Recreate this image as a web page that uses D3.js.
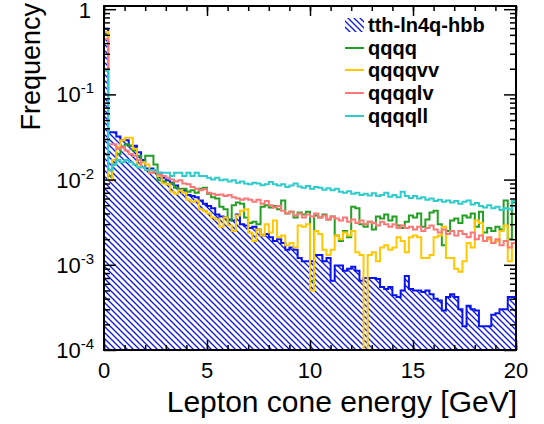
<!DOCTYPE html>
<html>
<head>
<meta charset="utf-8">
<script src="https://cdn.jsdelivr.net/npm/d3@7"></script>
<style>
  body { margin: 0; background: #fff; }
  svg { display: block; font-family: "Liberation Sans", Arial, Helvetica, sans-serif; }
</style>
</head>
<body>
<div id="chart"></div>
<script>
// Bin setup: 100 bins of 0.2 GeV from 0 to 20
const binWidth = 0.2;
const nBins = 100;

// Series values (frequency per bin)
const tthLn4qHbb = [
  0.59, 0.036, 0.036, 0.032, 0.029, 0.029, 0.025, 0.025, 0.021, 0.017,
  0.0135, 0.0135, 0.013, 0.012, 0.0105, 0.0098, 0.0092, 0.0085, 0.0077, 0.0075,
  0.0066, 0.0064, 0.0062, 0.0057, 0.0052, 0.0049, 0.0046, 0.0039, 0.0037, 0.0036,
  0.0034, 0.0033, 0.0039, 0.0030, 0.0029, 0.0027, 0.0028, 0.0026, 0.0022, 0.0023,
  0.0021, 0.0019, 0.0020, 0.0018, 0.0015, 0.0016, 0.0015, 0.0012, 0.0011, 0.0011,
  0.0011, 0.0013, 0.0013, 0.0011, 0.0012, 0.00065, 0.00098, 0.00098, 0.00085, 0.00090,
  0.00095, 0.00085, 0.00065, 0.00070, 0.00070, 0.00070, 0.00068, 0.00055, 0.00052, 0.00055,
  0.00044, 0.00042, 0.00050, 0.00074, 0.00052, 0.00050, 0.00050, 0.00048, 0.00050, 0.00045,
  0.00040, 0.00038, 0.00029, 0.00042, 0.00045, 0.00042, 0.00030, 0.00019, 0.00033, 0.00030,
  0.00029, 0.00019, 0.00019, 0.00019, 0.00026, 0.00027, 0.00030, 0.00030, 0.00042, 0.00042
];
const qqqq = [
  0.5, 0.011, 0.015, 0.020, 0.024, 0.026, 0.025, 0.022, 0.019, 0.016,
  0.019, 0.019, 0.015, 0.0098, 0.0095, 0.0088, 0.0090, 0.0080, 0.0075, 0.0078,
  0.0072, 0.0075, 0.0070, 0.0078, 0.0080, 0.0068, 0.0062, 0.0060, 0.0048, 0.0045,
  0.0033, 0.0050, 0.0054, 0.0052, 0.0036, 0.0031, 0.0032, 0.0030, 0.0048, 0.0050,
  0.0047, 0.0049, 0.0045, 0.0057, 0.0040, 0.0042, 0.0036, 0.0041, 0.0039, 0.0042,
  0.00065, 0.0038, 0.0036, 0.0039, 0.0034, 0.0037, 0.0022, 0.0019, 0.0025, 0.0021,
  0.0048, 0.0046, 0.0030, 0.0028, 0.0032, 0.0026, 0.0037, 0.0035, 0.0039, 0.0033,
  0.0037, 0.0029, 0.0027, 0.0032, 0.0038, 0.0036, 0.0040, 0.0028, 0.0034, 0.0041,
  0.0043, 0.0030, 0.0017, 0.0025, 0.0033, 0.0035, 0.0031, 0.0038, 0.0036, 0.0040,
  0.0028, 0.0042, 0.0024, 0.0027, 0.0025, 0.0028, 0.0026, 0.0057, 0.0020, 0.0054
];
const qqqqvv = [
  0.54, 0.0098, 0.017, 0.024, 0.029, 0.031, 0.031, 0.023, 0.015, 0.016,
  0.015, 0.012, 0.013, 0.011, 0.009, 0.0088, 0.0072, 0.0068, 0.0075, 0.0070,
  0.0058, 0.0055, 0.0057, 0.0045, 0.0043, 0.0040, 0.0036, 0.0034, 0.0028, 0.0036,
  0.0029, 0.0025, 0.0038, 0.0043, 0.0045, 0.0024, 0.0019, 0.0026, 0.0022, 0.0030,
  0.0024, 0.0033, 0.0021, 0.0022, 0.0017, 0.0018, 0.0016, 0.0029, 0.0028, 0.0030,
  0.0005, 0.0025, 0.0023, 0.0015, 0.0013, 0.0015, 0.0022, 0.0020, 0.0024, 0.0022,
  0.0025, 0.0014, 0.0013, 0, 0.0013, 0.0014, 0.0011, 0.0016, 0.0017, 0.0015,
  0.0016, 0.0021, 0.0019, 0.0014, 0.0021, 0.0022, 0.0021, 0.0012, 0.0012, 0.0013,
  0.0021, 0.0022, 0.0028, 0.0012, 0.0012, 0.0009, 0.00083, 0.0011, 0.0018, 0.0016,
  0.0033, 0.0031, 0.0019, 0.0020, 0.0018, 0.0019, 0.0025, 0.0029, 0.0011, 0.0018
];
const qqqqlv = [
  0.45, 0.026, 0.026, 0.023, 0.024, 0.022, 0.020, 0.019, 0.017, 0.014,
  0.013, 0.012, 0.0125, 0.0115, 0.011, 0.0105, 0.0100, 0.0095, 0.0098, 0.0090,
  0.0088, 0.0082, 0.0078, 0.0075, 0.0077, 0.0070, 0.0068, 0.0066, 0.0067, 0.0064,
  0.0066, 0.0062, 0.0060, 0.0058, 0.0060, 0.0058, 0.0055, 0.0058, 0.0052, 0.0056,
  0.0050, 0.0047, 0.0049, 0.0043, 0.0040, 0.0042, 0.0038, 0.0040, 0.0036, 0.0039,
  0.0037, 0.0040, 0.0036, 0.0038, 0.0034, 0.0037, 0.0035, 0.0033, 0.0036, 0.0032,
  0.0034, 0.0031, 0.0033, 0.0030, 0.0032, 0.0031, 0.0029, 0.0032, 0.0030, 0.0028,
  0.0030, 0.0027, 0.0029, 0.0027, 0.0028, 0.0026, 0.0028, 0.0025, 0.0027, 0.0029,
  0.0026, 0.0024, 0.0026, 0.0023, 0.0025, 0.0022, 0.0025, 0.0023, 0.0021, 0.0024,
  0.0020, 0.0022, 0.0019, 0.0021, 0.0018, 0.0020, 0.0017, 0.0019, 0.0016, 0.0018
];
const qqqqll = [
  0.19, 0.013, 0.015, 0.017, 0.016, 0.017, 0.016, 0.015, 0.014, 0.014,
  0.013, 0.013, 0.013, 0.012, 0.012, 0.012, 0.011, 0.012, 0.012, 0.011,
  0.012, 0.011, 0.012, 0.011, 0.011, 0.0105, 0.0100, 0.0105, 0.0098, 0.0100,
  0.0095, 0.0098, 0.0092, 0.0095, 0.0090, 0.0088, 0.0092, 0.0090, 0.0086, 0.0088,
  0.0094, 0.0088, 0.0085, 0.0088, 0.0082, 0.0085, 0.0090, 0.0083, 0.0080, 0.0084,
  0.0078, 0.0082, 0.0080, 0.0076, 0.0079, 0.0075, 0.0078, 0.0072, 0.0070, 0.0073,
  0.0068, 0.0070, 0.0066, 0.0068, 0.0065, 0.0069, 0.0064, 0.0066, 0.0070, 0.0063,
  0.0066, 0.0062, 0.0072, 0.0064, 0.0061, 0.0064, 0.0060, 0.0062, 0.0058, 0.0060,
  0.0056, 0.0058, 0.0055, 0.0057, 0.0054, 0.0056, 0.0052, 0.0055, 0.0057, 0.0051,
  0.0053, 0.0049, 0.0047, 0.0050, 0.0046, 0.0048, 0.0044, 0.0046, 0.0045, 0.0057
];

// Legend labels and colours, in draw order
const seriesNames = ["tth-ln4q-hbb", "qqqq", "qqqqvv", "qqqqlv", "qqqqll"];
const seriesColors = ["#0a14f0", "#22a022", "#ffc800", "#ff7878", "#30cccc"];
const seriesValues = [tthLn4qHbb, qqqq, qqqqvv, qqqqlv, qqqqll];

// Axis ticks
const xMajorTicks = [0, 5, 10, 15, 20];
const xMinorTicks = d3.range(0, 21, 1);
const yMajorTicks = [1e-4, 1e-3, 1e-2, 1e-1, 1];
const yExponents = ["-4", "-3", "-2", "-1", ""];

// Dimensions
const W = 544, H = 424;
const padL = 104, padR = 516, padT = 6, padB = 350;

const svg = d3.select("#chart").append("svg")
    .attr("width", W)
    .attr("height", H);

const xScale = d3.scaleLinear().domain([0, 20]).range([padL, padR]);
const yScale = d3.scaleLog().domain([1e-4, 1.09]).range([padB, padT]);

// Hatch pattern for the filled histogram
const defs = svg.append("defs");
const hatch = defs.append("pattern")
    .attr("id", "hatch")
    .attr("patternUnits", "userSpaceOnUse")
    .attr("width", 6)
    .attr("height", 6);
hatch.append("path")
    .attr("d", "M0,0 L6,6 M-1,5 L1,7 M5,-1 L7,1")
    .attr("stroke", seriesColors[0])
    .attr("stroke-width", 1.3);

defs.append("clipPath").attr("id", "plotclip")
    .append("rect")
    .attr("x", padL).attr("y", padT)
    .attr("width", padR - padL).attr("height", padB - padT);

// Step path for one histogram
function yOf(v) { return v > 0 ? yScale(v) : padB; }
function stepPath(vals) {
    const p = d3.path();
    p.moveTo(xScale(0), padB);
    vals.forEach((v, i) => {
        p.lineTo(xScale(i * binWidth), yOf(v));
        p.lineTo(xScale((i + 1) * binWidth), yOf(v));
    });
    p.lineTo(xScale(nBins * binWidth), padB);
    return p.toString();
}

const plot = svg.append("g").attr("clip-path", "url(#plotclip)");

// Filled signal histogram
plot.append("path")
    .attr("d", stepPath(tthLn4qHbb) + "Z")
    .attr("fill", "url(#hatch)")
    .attr("stroke", "none");
plot.append("path")
    .attr("d", stepPath(tthLn4qHbb))
    .attr("fill", "none")
    .attr("stroke", seriesColors[0])
    .attr("stroke-width", 2);

// Line histograms
for (let s = 1; s < seriesValues.length; s++) {
    plot.append("path")
        .attr("d", stepPath(seriesValues[s]))
        .attr("fill", "none")
        .attr("stroke", seriesColors[s])
        .attr("stroke-width", 2);
}

// Ticks on all four sides, pointing inward
function tickGroup(axis, transform) {
    const g = svg.append("g").attr("transform", transform).call(axis);
    g.select(".domain").remove();
    g.selectAll("text").remove();
    g.selectAll("line").attr("stroke", "#000").attr("stroke-width", 1.5);
}
const yMinorTicks = [];
[1e-4, 1e-3, 1e-2, 1e-1].forEach(d => {
    for (let k = 2; k <= 9; k++) yMinorTicks.push(d * k);
});

tickGroup(d3.axisBottom(xScale).tickValues(xMinorTicks).tickSize(-5), `translate(0,${padB})`);
tickGroup(d3.axisBottom(xScale).tickValues(xMajorTicks).tickSize(-10), `translate(0,${padB})`);
tickGroup(d3.axisTop(xScale).tickValues(xMinorTicks).tickSize(-5), `translate(0,${padT})`);
tickGroup(d3.axisTop(xScale).tickValues(xMajorTicks).tickSize(-10), `translate(0,${padT})`);
tickGroup(d3.axisLeft(yScale).tickValues(yMinorTicks).tickSize(-6), `translate(${padL},0)`);
tickGroup(d3.axisLeft(yScale).tickValues(yMajorTicks).tickSize(-12), `translate(${padL},0)`);
tickGroup(d3.axisRight(yScale).tickValues(yMinorTicks).tickSize(-6), `translate(${padR},0)`);
tickGroup(d3.axisRight(yScale).tickValues(yMajorTicks).tickSize(-12), `translate(${padR},0)`);

// Frame
svg.append("rect")
    .attr("x", padL).attr("y", padT)
    .attr("width", padR - padL).attr("height", padB - padT)
    .attr("fill", "none")
    .attr("stroke", "#000")
    .attr("stroke-width", 2);

// X tick labels
svg.selectAll(".xlabel")
    .data(xMajorTicks)
    .enter().append("text")
    .attr("class", "xlabel")
    .attr("x", d => xScale(d))
    .attr("y", 378)
    .attr("text-anchor", "middle")
    .attr("font-size", 22)
    .text(d => d);

// Y tick labels: 10 with superscript exponent
yMajorTicks.forEach((d, i) => {
    const t = svg.append("text")
        .attr("x", 94)
        .attr("y", yScale(d) + 8)
        .attr("text-anchor", "end")
        .attr("font-size", 22);
    if (yExponents[i] === "") {
        t.attr("x", 91).attr("y", yScale(d) + 9).text("1");
    } else {
        t.append("tspan").text("10");
        t.append("tspan")
            .attr("dy", -9)
            .attr("font-size", 15)
            .text(yExponents[i]);
    }
});

// Axis titles
svg.append("text")
    .attr("x", 517)
    .attr("y", 412)
    .attr("text-anchor", "end")
    .attr("font-size", 30)
    .text("Lepton cone energy [GeV]");

svg.append("text")
    .attr("transform", "translate(40,3) rotate(-90)")
    .attr("text-anchor", "end")
    .attr("font-size", 27)
    .text("Frequency");

// Legend
const legend = svg.append("g");
seriesNames.forEach((name, i) => {
    const cy = [25, 48, 70, 93, 116][i];
    if (i === 0) {
        legend.append("rect")
            .attr("x", 345).attr("y", cy - 7)
            .attr("width", 19).attr("height", 14)
            .attr("fill", "url(#hatch)");
    } else {
        legend.append("line")
            .attr("x1", 345).attr("x2", 364)
            .attr("y1", cy).attr("y2", cy)
            .attr("stroke", seriesColors[i])
            .attr("stroke-width", 2);
    }
    legend.append("text")
        .attr("x", 368)
        .attr("y", cy + 7)
        .attr("font-size", 20)
        .attr("font-weight", "bold")
        .text(name);
});
</script>
</body>
</html>
